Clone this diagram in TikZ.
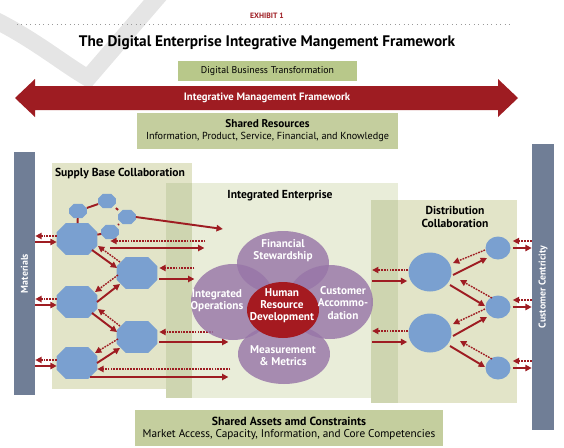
\documentclass[tikz,border=0pt]{standalone}
\usepackage{fontspec}
\setmainfont{PT Sans}
\usetikzlibrary{calc}
\usetikzlibrary{shapes.geometric}
\usetikzlibrary{arrows.meta}
\definecolor{exred}{RGB}{158,28,34}
\definecolor{nodeblue}{RGB}{122,160,208}
\definecolor{barslate}{RGB}{112,126,150}
\definecolor{olivebox}{RGB}{196,206,158}
\definecolor{topbox}{RGB}{184,200,138}
\definecolor{regionbg}{RGB}{226,228,200}
\definecolor{entbg}{RGB}{233,237,217}
\definecolor{bandbg}{RGB}{206,213,176}
\definecolor{petal}{RGB}{152,118,168}
\definecolor{hrdred}{RGB}{165,26,32}

\tikzset{
  solarr/.style={exred, line width=1.1pt, -{Triangle[length=3.6pt,width=3.6pt]}},
  dasharr/.style={exred, line width=0.8pt, dash pattern=on 1pt off 0.6pt, -{Triangle[length=3.6pt,width=3.6pt]}},
  link/.style={exred, line width=1.1pt},
  bigoct/.style={rectangle, inner sep=0pt, minimum width=0.8cm, minimum height=0.62cm},
  smalloct/.style={rectangle, inner sep=0pt, minimum width=0.34cm, minimum height=0.27cm},
  bigdot/.style={ellipse, fill=nodeblue, inner sep=0pt, minimum width=0.86cm, minimum height=0.78cm},
  smalldot/.style={ellipse, fill=nodeblue, inner sep=0pt, minimum width=0.5cm, minimum height=0.46cm},
  petalnode/.style={ellipse, fill=petal, fill opacity=0.82, inner sep=0pt},
  petaltext/.style={text=white, font=\fontsize{6.4}{6.9}\selectfont\bfseries, align=center},
  labelbox/.style={fill=olivebox, inner sep=0pt, align=center},
  heading/.style={font=\fontsize{6.6}{7.2}\selectfont\bfseries, align=center},
  sidebar/.style={fill=barslate, text=white, inner sep=0pt, font=\fontsize{5.6}{6}\selectfont\bfseries}
}
% octagon: name, position, size style, chamfer (px)
\newcommand\octnode[4]{%
  \node[#3] (#1) at (#2) {};
  \fill[nodeblue] ($(#1.north west)+(#4,0)$) -- ($(#1.north east)+(-#4,0)$) -- ($(#1.north east)+(0,#4)$)
    -- ($(#1.south east)+(0,-#4)$) -- ($(#1.south east)+(-#4,0)$) -- ($(#1.south west)+(#4,0)$)
    -- ($(#1.south west)+(0,-#4)$) -- ($(#1.north west)+(0,#4)$) -- cycle;}

\begin{document}
\begin{tikzpicture}[x=0.02cm,y=-0.02cm]
\useasboundingbox (0,0) rectangle (564,447);
% faint check mark in the background
\draw[black!10, line width=0.34cm] (-5,20) .. controls (35,40) and (65,65) .. (88,78) -- (162,-8);

% heading
\node[font=\fontsize{4.4}{5}\selectfont\bfseries, text=exred] (exh) at (267,16) {EXHIBIT 1};
\draw[black!40, dotted, line width=0.5pt] (17,24) -- (513,24);
\node[font=\fontsize{8.7}{10}\selectfont\bfseries] (title) at (267,43) {The Digital Enterprise Integrative Mangement Framework};
\node[labelbox, fill=topbox, minimum width=3.58cm, minimum height=0.4cm, font=\fontsize{5.6}{6}\selectfont] (dbt) at (267.5,71) {Digital Business Transformation};

% big double arrow
\fill[exred] (15,98) -- (35,79) -- (35,86) -- (498,86) -- (498,79) -- (518,98) -- (498,117) -- (498,110) -- (35,110) -- (35,117) -- cycle;
\node[text=white, font=\fontsize{6.1}{6.5}\selectfont\bfseries] (imf) at (267,97.5) {Integrative Management Framework};

\node[labelbox, minimum width=5.22cm, minimum height=0.72cm, font=\fontsize{5.8}{6.8}\selectfont] (sres) at (267.5,131)
  {{\fontsize{6.4}{6.8}\selectfont\bfseries Shared Resources}\\Information, Product, Service, Financial, and Knowledge};

% regions
\fill[regionbg] (52,163) rectangle (192,389);
\fill[entbg] (166,183) rectangle (398,398);
\fill[regionbg] (371,200) rectangle (517,403);
\fill[bandbg] (166,183) rectangle (192,398);
\fill[bandbg] (371,200) rectangle (398,403);
\node[heading] (sbc) at (120,174) {Supply Base Collaboration};
\node[heading] (ient) at (280,196) {Integrated Enterprise};
\node[heading] (dcol) at (455,217) {Distribution\\Collaboration};

% side bars
\node[sidebar, minimum width=0.42cm, minimum height=4.86cm] (mat) at (24.5,273.5) {\rotatebox{90}{Materials}};
\node[sidebar, minimum width=0.44cm, minimum height=5.72cm] (cc) at (543,287) {\rotatebox{90}{Customer Centricity}};

% supply base
\octnode{s1}{78,211}{smalloct}{4.5}
\octnode{s2}{107,201}{smalloct}{4.5}
\octnode{s3}{127,217}{smalloct}{4.5}
\octnode{s4}{110,232}{smalloct}{4.5}
\octnode{sA}{77,239}{bigoct}{9}
\octnode{sB}{137,273}{bigoct}{9}
\octnode{sC}{77,302}{bigoct}{9}
\octnode{sD}{137,337}{bigoct}{9}
\octnode{sE}{77,363}{bigoct}{9}

\draw[link] (s1) -- (s2);
\draw[link] (s2) -- (s3);
\draw[link] (s3) -- (s4);
\draw[link] (s1) -- (sA);
\draw[link] (s4) -- (sA);
\draw[solarr] (s3.east) -- ++(87,12);

\foreach \n in {sA,sC,sE} {
  \draw[dasharr] ($(\n.west)+(0,-3)$) -- ($(mat.east |- \n.west)+(0,-3)$);
  \draw[solarr] ($(mat.east |- \n.west)+(0,3)$) -- ($(\n.west)+(0,3)$);
}
\foreach \a/\b in {sA/sB,sC/sD} {
  \draw[solarr] ($(\a)+(15,11)$) -- ($(\b)+(-20,-5)$);
  \draw[dasharr] ($(\b)+(-17,-11)$) -- ($(\a)+(21,7)$);
}
\foreach \a/\b in {sB/sC,sD/sE} {
  \draw[dasharr] ($(\a)+(-19,2)$) -- ($(\b)+(18,-10)$);
  \draw[solarr] ($(\b)+(20,0)$) -- ($(\a)+(-17,11)$);
}
\draw[dasharr] ($(sA.east)+(108,2)$) -- ($(sA.east)+(13,2)$);
\draw[solarr] ($(sA.east)+(13,9)$) -- ++(94,0);
\draw[dasharr] ($(sB.east)+(37,-5)$) -- ($(sB.east)+(2,-5)$);
\draw[solarr] ($(sB.east)+(2,6)$) -- ++(35,0);
\draw[dasharr] ($(sD.east)+(56,-5)$) -- ($(sD.east)+(2,-5)$);
\draw[solarr] ($(sD.east)+(2,5)$) -- ++(69,0);
\draw[dasharr] ($(sE.east)+(133,6)$) -- ($(sE.east)+(0,6)$);
\draw[solarr] ($(sE.east)+(-7,14)$) -- ++(138,0);

% distribution
\node[bigdot] (dF) at (430,272) {};
\node[bigdot] (dG) at (430,333) {};
\node[smalldot] (dH) at (498,248) {};
\node[smalldot] (dI) at (498,307) {};
\node[smalldot] (dJ) at (498,368) {};

\foreach \n in {dF,dG} {
  \draw[dasharr] ($(\n.west)+(0,-2)$) -- ++(-36,0);
  \draw[solarr] ($(\n.west)+(-36,9)$) -- ++(35,0);
}
\foreach \a/\b in {dF/dH,dG/dI} {
  \draw[dasharr] ($(\b)+(-13,2)$) -- ($(\a)+(23,-9)$);
  \draw[solarr] ($(\a)+(23,3)$) -- ($(\b)+(-11,10)$);
}
\foreach \a/\b in {dF/dI,dG/dJ} {
  \draw[solarr] ($(\a)+(20,13)$) -- ($(\b)+(-13,-1)$);
  \draw[dasharr] ($(\b)+(-6,-9)$) -- ($(\a)+(30,8)$);
}
\foreach \n in {dH,dI,dJ} {
  \draw[dasharr] ($(cc.west |- \n.east)+(0,-7)$) -- ($(\n.east)+(2,-7)$);
  \draw[solarr] ($(\n.east)+(2,0)$) -- ($(cc.west |- \n.east)+(0,0)$);
}

% integrated enterprise
\node[petalnode, minimum width=1.84cm, minimum height=1.28cm] (fin) at (283,263) {};
\node[petalnode, minimum width=1.68cm, minimum height=1.52cm] (ops) at (233,302) {};
\node[petalnode, minimum width=1.72cm, minimum height=1.48cm] (cust) at (330,302) {};
\node[petalnode, minimum width=1.84cm, minimum height=1.20cm] (meas) at (284,354) {};
\node[ellipse, fill=hrdred, inner sep=0pt, minimum width=1.44cm, minimum height=1.12cm] (hrd) at (283,310) {};
\node[petaltext] (fint) at (283,251) {Financial\\Stewardship};
\node[petaltext] (opst) at (217,301) {Integrated\\Operations};
\node[petaltext] (custt) at (343,303) {Customer\\Accommo-\\dation};
\node[petaltext] (meast) at (283,356) {Measurement\\\& Metrics};
\node[petaltext] (hrdt) at (282,306) {Human\\Resource\\Development};

% bottom
\node[labelbox, minimum width=6.16cm, minimum height=0.72cm, font=\fontsize{6.4}{6.8}\selectfont] (sasset) at (289,428)
  {{\fontsize{6.7}{6.8}\selectfont\bfseries Shared Assets amd Constraints}\\Market Access, Capacity, Information, and Core Competencies};
\end{tikzpicture}
\end{document}
